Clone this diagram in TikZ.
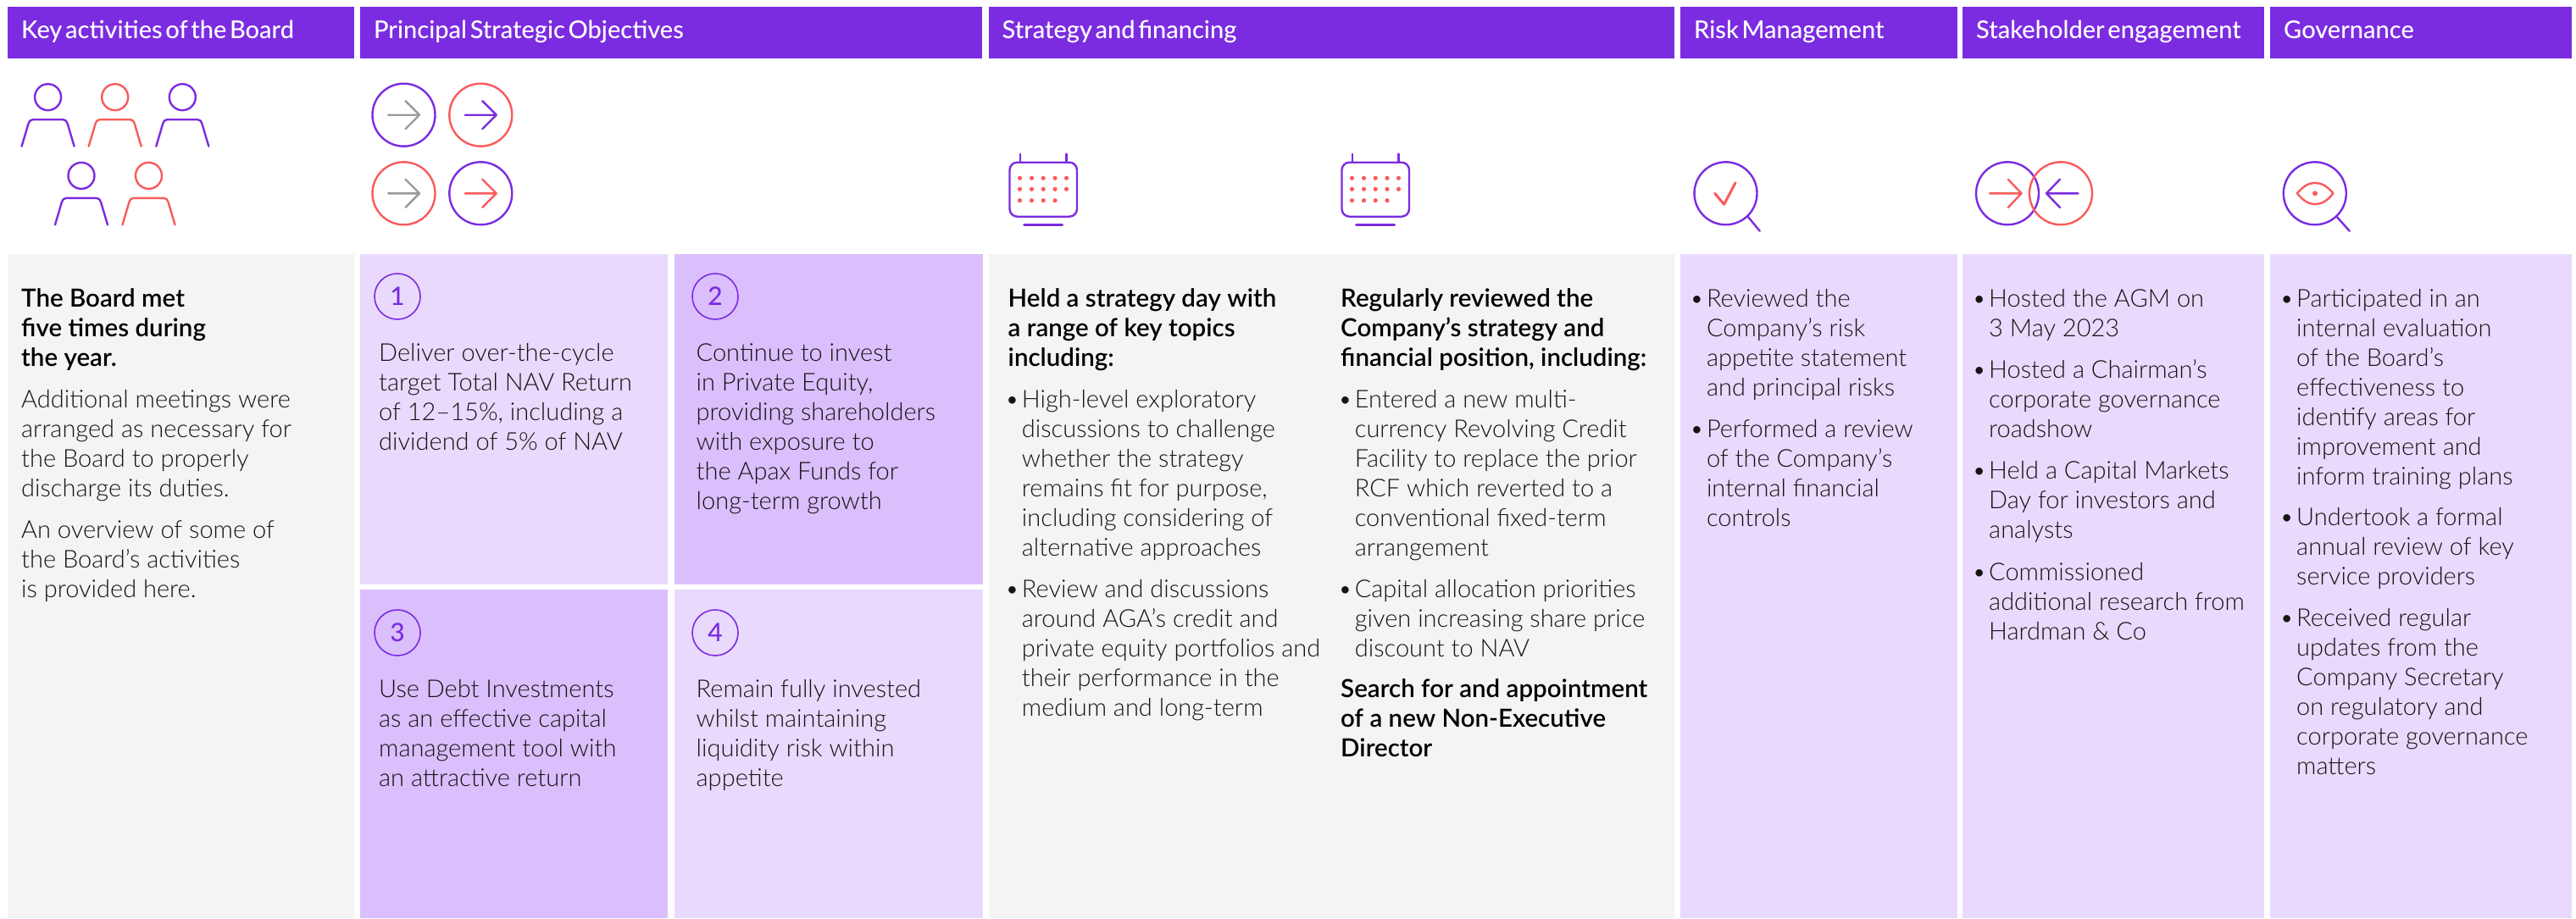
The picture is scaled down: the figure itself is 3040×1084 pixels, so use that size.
\documentclass[tikz,border=0pt]{standalone}
\usepackage{fontspec}
\setmainfont{Lato}
\newfontfamily\lightf{Lato Light}
\newfontfamily\medf{Lato Medium}
\newfontfamily\semif{Lato Semibold}
\definecolor{purp}{HTML}{7B2CE0}
\definecolor{coral}{HTML}{F95B5B}
\definecolor{pale}{HTML}{E9DAFD}
\definecolor{midp}{HTML}{DBBFFC}
\definecolor{greyp}{HTML}{F4F4F4}
\definecolor{arrowgrey}{HTML}{9A9A9A}
\definecolor{ink}{HTML}{141414}
\tikzset{
  hdr/.style={fill=purp,text=white,anchor=north west,minimum height=61pt,inner xsep=16pt,inner ysep=0pt,align=left,
    font=\medf\fontsize{29}{32}\selectfont,text height=21pt,text depth=7pt},
  body/.style={anchor=north west,inner sep=0pt,align=left,text=ink,font=\lightf\fontsize{29}{35}\selectfont},
  lead/.style={anchor=north west,inner sep=0pt,align=left,text=black,font=\semif\fontsize{29.5}{35}\selectfont},
  numring/.style={circle,draw=purp,line width=1.6pt,minimum size=54pt,inner sep=0pt,text=purp,font=\medf\fontsize{30}{30}\selectfont},
  icon/.style={line width=2.4pt,line cap=round,line join=round},
}
\newcommand{\headbox}[4]{%
  \pgfmathsetmacro{\boxw}{#3-#2}%
  \pgfmathsetmacro{\boxt}{#3-#2-32}%
  \node[hdr,minimum width=\boxw pt,text width=\boxt pt] (#1) at (#2,8) {\spaceskip=3.6pt\relax #4};}
\newcommand{\panelbox}[6]{%
  \fill[#6] (#2,#3) rectangle (#4,#5);
  \coordinate (#1) at (#2,#3);}
\newcommand{\tpara}[5]{%
  \node[#1] (#2) at (#3,#4-25) {\rule{0pt}{25pt}#5};}
\newcommand{\bpara}[4]{%
  \node[body] (#1) at (#2,#3-25) {\rule{0pt}{25pt}\makebox[0pt][r]{•\hspace{3pt}}#4};}
\newcommand{\personicon}[3]{%
  \draw[icon,#3] (#1,#2) circle[radius=15.5];
  \draw[icon,#3] (#1-31,#2+58) -- (#1-23,#2+31) to[out=75,in=180] (#1-18,#2+26.5) -- (#1+18,#2+26.5) to[out=0,in=105] (#1+23,#2+31) -- (#1+31,#2+58);}
\newcommand{\arrowring}[4]{% x y ring arrow
  \draw[icon,#3] (#1,#2) circle[radius=37];
  \draw[icon,#4] (#1-18.5,#2) -- (#1+18.5,#2) (#1+2,#2-16.5) -- (#1+18.5,#2) -- (#1+2,#2+16.5);}
\newcommand{\calicon}[2]{%
  \draw[icon,purp,rounded corners=9pt] (#1,#2) rectangle (#1+79.5,#2+64);
  \draw[icon,purp] (#1+12.5,#2) -- (#1+12.5,#2-10) (#1+67,#2) -- (#1+67,#2-10);
  \draw[icon,purp,line width=3pt] (#1+17,#2+73.5) -- (#1+62,#2+73.5);
  \foreach \cx in {12,26,39.7,53.5,67}{\foreach \cy in {18.6,31.6}{\fill[coral] (#1+\cx,#2+\cy) circle[radius=2.6];}}
  \foreach \cx in {12,26,39.7,53.5}{\fill[coral] (#1+\cx,#2+45) circle[radius=2.6];}}
\begin{document}
\begin{tikzpicture}[x=1pt,y=-1pt]
\useasboundingbox (0,0) rectangle (3040,1084);
% headers
\headbox{h1}{9}{418}{Key activities of the Board}
\headbox{h2}{425}{1159}{Principal Strategic Objectives}
\headbox{h3}{1166.5}{1976}{Strategy and financing}
\headbox{h4}{1983}{2310}{Risk Management}
\headbox{h5}{2316}{2672}{Stakeholder engagement}
\headbox{h6}{2679}{3035}{Governance}
% panels
\panelbox{p0}{9}{300}{418}{1084}{greyp}
\panelbox{p1}{425}{300}{788}{690}{pale}
\panelbox{p2}{796}{300}{1160}{690}{midp}
\panelbox{p3}{425}{696}{788}{1084}{midp}
\panelbox{p4}{796}{696}{1160}{1084}{pale}
\panelbox{p5}{1167}{300}{1976}{1084}{greyp}
\panelbox{p6}{1983}{300}{2310}{1084}{pale}
\panelbox{p7}{2316}{300}{2672}{1084}{pale}
\panelbox{p8}{2679}{300}{3035}{1084}{pale}
% icons: people
\personicon{56.6}{114.7}{purp}
\personicon{135.7}{114.7}{coral}
\personicon{215.3}{114.7}{purp}
\personicon{96}{207.4}{purp}
\personicon{175.5}{207.4}{coral}
% icons: arrows in rings
\arrowring{476.5}{135.7}{purp}{arrowgrey}
\arrowring{567.3}{135.7}{coral}{purp}
\arrowring{476.5}{228.3}{coral}{arrowgrey}
\arrowring{567.3}{228.3}{purp}{coral}
% calendars
\calicon{1191.5}{191.7}
\calicon{1583.5}{191.7}
% magnifier with tick
\draw[icon,purp] (2036.5,228.3) circle[radius=37];
\draw[icon,purp] (2062.5,255.5) -- (2076.7,272.7);
\draw[icon,coral,line width=3pt] (2023.7,228.3) -- (2034.6,241.3) -- (2048,215.7);
% two rings
\draw[icon,purp] (2369,228.3) circle[radius=37];
\draw[icon,coral] (2432,228.3) circle[radius=37];
\draw[icon,coral] (2348,228.3) -- (2385.6,228.3) (2369.7,211.7) -- (2385.6,228.3) -- (2369.7,245);
\draw[icon,purp] (2452.5,228.3) -- (2415,228.3) (2431,211.7) -- (2415,228.3) -- (2431,245);
% magnifier with eye
\draw[icon,purp] (2731.8,228.3) circle[radius=37];
\draw[icon,purp] (2757.3,255.5) -- (2772.7,272.7);
\draw[icon,coral] (2710.8,228.3) .. controls (2719,219) and (2725,216) .. (2732,216) .. controls (2739,216) and (2746,219) .. (2753.4,228.3) .. controls (2746,238) and (2739,241) .. (2732,241) .. controls (2725,241) and (2719,238) .. (2710.8,228.3) -- cycle;
\fill[coral] (2732,228.3) circle[radius=3];
% left panel
\tpara{lead}{t01}{25}{362}{The Board met\\five times during\\the year.}
\tpara{body}{t02}{25}{481}{Additional meetings were\\arranged as necessary for\\the Board to properly\\discharge its duties.}
\tpara{body}{t03}{25}{635}{An overview of some of\\the Board’s activities\\is provided here.}
% objectives
\node[numring] (n1) at (469,350) {1};
\node[numring] (n2) at (844,350) {2};
\node[numring] (n3) at (469,747) {3};
\node[numring] (n4) at (844,747) {4};
\tpara{body}{o1}{447}{426}{Deliver over-the-cycle\\target Total NAV Return\\of 12–15\%, including a\\dividend of 5\% of NAV}
\tpara{body}{o2}{821.5}{426}{Continue to invest\\in Private Equity,\\providing shareholders\\with exposure to\\the Apax Funds for\\long-term growth}
\tpara{body}{o3}{447}{823}{Use Debt Investments\\as an effective capital\\management tool with\\an attractive return}
\tpara{body}{o4}{821.5}{823}{Remain fully invested\\whilst maintaining\\liquidity risk within\\appetite}
% strategy
\tpara{lead}{s1}{1189.5}{362}{Held a strategy day with\\a range of key topics\\including:}
\bpara{s2}{1205.7}{481}{High-level exploratory\\discussions to challenge\\whether the strategy\\remains fit for purpose,\\including considering of\\alternative approaches}
\bpara{s3}{1205.7}{705}{Review and discussions\\around AGA’s credit and\\private equity portfolios and\\their performance in the\\medium and long-term}
\tpara{lead}{s4}{1582}{362}{Regularly reviewed the\\Company’s strategy and\\financial position, including:}
\bpara{s5}{1598.6}{481}{Entered a new multi-\\currency Revolving Credit\\Facility to replace the prior\\RCF which reverted to a\\conventional fixed-term\\arrangement}
\bpara{s6}{1598.6}{705}{Capital allocation priorities\\given increasing share price\\discount to NAV}
\tpara{lead}{s7}{1582}{823}{Search for and appointment\\of a new Non-Executive\\Director}
% risk
\bpara{r1}{2013.8}{362}{Reviewed the\\Company’s risk\\appetite statement\\and principal risks}
\bpara{r2}{2013.8}{516}{Performed a review\\of the Company’s\\internal financial\\controls}
% stakeholder
\bpara{k1}{2347}{362}{Hosted the AGM on\\3 May 2023}
\bpara{k2}{2347}{446}{Hosted a Chairman’s\\corporate governance\\roadshow}
\bpara{k3}{2347}{565}{Held a Capital Markets\\Day for investors and\\analysts}
\bpara{k4}{2347}{685}{Commissioned\\additional research from\\Hardman \& Co}
% governance
\bpara{g1}{2710}{362}{Participated in an\\internal evaluation\\of the Board’s\\effectiveness to\\identify areas for\\improvement and\\inform training plans}
\bpara{g2}{2710}{620}{Undertook a formal\\annual review of key\\service providers}
\bpara{g3}{2710}{739}{Received regular\\updates from the\\Company Secretary\\on regulatory and\\corporate governance\\matters}
\end{tikzpicture}
\end{document}
